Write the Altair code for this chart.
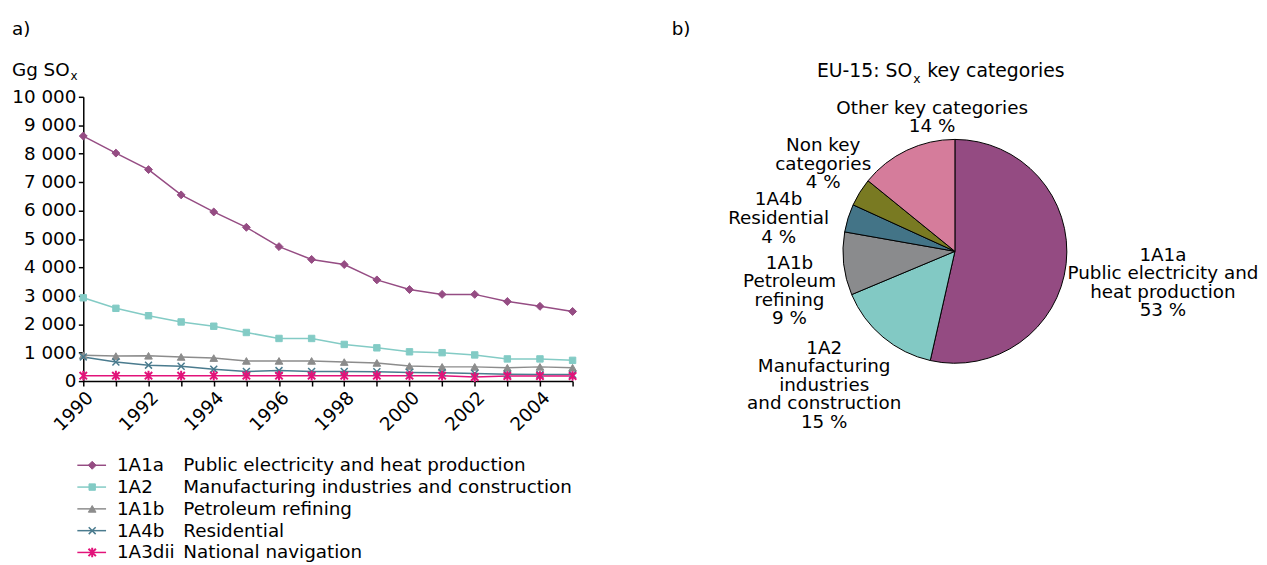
import altair as alt
import pandas as pd

# ---------------- data ----------------
YEARS = [1990, 1991, 1992, 1993, 1994, 1995, 1996, 1997,
         1998, 1999, 2000, 2001, 2002, 2003, 2004, 2005]

SERIES = ["1A1a", "1A2", "1A1b", "1A4b", "1A3dii"]
NAMES = ["Public electricity and heat production",
         "Manufacturing industries and construction",
         "Petroleum refining",
         "Residential",
         "National navigation"]

V_1A1A = [8620, 8020, 7440, 6550, 5950, 5410, 4730, 4280, 4100, 3560, 3220, 3050, 3050, 2800, 2630, 2450]
V_1A2 = [2930, 2560, 2300, 2080, 1930, 1710, 1500, 1500, 1290, 1170, 1030, 1000, 920, 780, 780, 730]
V_1A1B = [910, 880, 890, 850, 810, 710, 710, 710, 670, 640, 530, 500, 500, 470, 500, 470]
V_1A4B = [850, 670, 560, 520, 420, 340, 370, 340, 340, 330, 300, 290, 270, 240, 230, 230]
V_1A3DII = [190, 190, 190, 190, 190, 190, 190, 190, 190, 190, 190, 190, 140, 180, 180, 180]

Y_TICKS = [0, 1000, 2000, 3000, 4000, 5000, 6000, 7000, 8000, 9000, 10000]

PIE_CATS = ["1A1a", "1A2", "1A1b", "1A4b", "Non key", "Other key"]
PIE_VALUES = [53, 15, 9, 4, 4, 14]
PIE_LABELS = ["1A1a|Public electricity and|heat production|53 %",
              "1A2|Manufacturing|industries|and construction|15 %",
              "1A1b|Petroleum|refining|9 %",
              "1A4b|Residential|4 %",
              "Non key|categories|4 %",
              "Other key categories|14 %"]

# ---------------- styles ----------------
FONT = "DejaVu Sans"
FS = 18.5
SERIES_COLORS = ["#954C83", "#83CBC5", "#8C8C8C", "#4A7B8E", "#E2137A"]
SHAPES = ["diamond", "square", "triangle-up",
          "M-1,-1L1,1M-1,1L1,-1",
          "M-1,-1L1,1M-1,1L1,-1M0,-1.3L0,1.3"]
MARK_SIZE = {"1A1a": 64, "1A2": 42, "1A1b": 60, "1A4b": 49, "1A3dii": 56}
MARK_SW = {"1A1a": 1, "1A2": 1, "1A1b": 1, "1A4b": 1.5, "1A3dii": 2}
PIE_COLORS = ["#944B82", "#82C9C4", "#8A8B8D", "#437487", "#797A22", "#D57C9B"]
PX = 6  # horizontal nudge of the pie panel content
# first-line anchor of each pie label (pixels in the pie panel)
LABEL_POS = {"1A1a": (492 + PX, 159.3), "1A2": (150 + PX, 253.3), "1A1b": (115 + PX, 167.7),
             "1A4b": (104 + PX, 103.7), "Non key": (149 + PX, 48.7), "Other key": (259 + PX, 11)}

# ---------------- tables ----------------
all_vals = [V_1A1A, V_1A2, V_1A1B, V_1A4B, V_1A3DII]
rows = []
for s, vals in zip(SERIES, all_vals):
    for yr, v in zip(YEARS, vals):
        rows.append({"series": s, "year": yr, "value": v,
                     "msize": MARK_SIZE[s], "msw": MARK_SW[s]})
df = pd.DataFrame(rows)

tick_df = pd.DataFrame({"value": Y_TICKS,
                        "lab": [f"{v:,}".replace(",", " ") for v in Y_TICKS]})

leg_df = pd.DataFrame({"series": SERIES, "name": NAMES,
                       "msize": [MARK_SIZE[s] for s in SERIES],
                       "msw": [MARK_SW[s] for s in SERIES]})

pie_df = pd.DataFrame({"cat": PIE_CATS, "value": PIE_VALUES,
                       "order": list(range(len(PIE_CATS))), "label": PIE_LABELS,
                       "lx": [LABEL_POS[c][0] for c in PIE_CATS],
                       "ly": [LABEL_POS[c][1] for c in PIE_CATS]})

one = pd.DataFrame({"k": [0]})

# ---------------- scales ----------------
color_sc = alt.Scale(domain=SERIES, range=SERIES_COLORS)
shape_sc = alt.Scale(domain=SERIES, range=SHAPES)

x_enc = alt.X("year:Q",
              scale=alt.Scale(domain=[1990, 2005], nice=False, zero=False),
              axis=alt.Axis(values=YEARS, format="d",
                            labelExpr="datum.value % 2 == 0 ? datum.label : ''",
                            labelAngle=315, labelFontSize=FS, labelColor="black",
                            labelFont=FONT, labelOverlap=False, labelFlush=False,
                            tickSize=5, tickColor="black", tickWidth=1.5,
                            domainColor="black", domainWidth=1.5,
                            grid=False, title=None, labelPadding=2))
y_enc = alt.Y("value:Q",
              scale=alt.Scale(domain=[0, 10000], nice=False),
              axis=alt.Axis(values=Y_TICKS, labels=False,
                            tickSize=5, tickColor="black", tickWidth=1.5,
                            domainColor="black", domainWidth=1.5,
                            grid=False, title=None))

line = alt.Chart(df).mark_line(strokeWidth=1.5).encode(
    x=x_enc, y=y_enc,
    color=alt.Color("series:N", scale=color_sc, legend=None))

points = alt.Chart(df).mark_point(filled=True, opacity=1).encode(
    x=x_enc, y=y_enc,
    fill=alt.Fill("series:N", scale=color_sc, legend=None),
    stroke=alt.Stroke("series:N", scale=color_sc, legend=None),
    shape=alt.Shape("series:N", scale=shape_sc, legend=None),
    size=alt.Size("msize:Q", scale=None),
    strokeWidth=alt.StrokeWidth("msw:Q", scale=None))

# y tick labels, placed through the y scale
ytick_labels = alt.Chart(tick_df).mark_text(
    x=-7, align="right", baseline="middle", fontSize=FS, font=FONT, color="black").encode(
    y=y_enc, text="lab:N")

def txt(s, x, y, size=FS, align="left", baseline="alphabetic"):
    return alt.Chart(one).mark_text(x=x, y=y, fontSize=size, font=FONT, color="black",
                                    align=align, baseline=baseline).encode(
        text=alt.value(s))

plot_layer = alt.layer(line, points, ytick_labels,
                       txt("a)", -72, -62),
                       txt("Gg SO", -72, -21),
                       txt("x", -13, -16.5, size=12))

# ---- legend (below the plot) ----
leg_y = alt.Y("series:N", axis=None,
              scale=alt.Scale(type="point", domain=SERIES, range=[372, 460], padding=0))

leg_rule = alt.Chart(leg_df).mark_rule(x=-6, x2=23, strokeWidth=1.5).encode(
    y=leg_y, color=alt.Color("series:N", scale=color_sc, legend=None))
leg_pt = alt.Chart(leg_df).mark_point(filled=True, opacity=1, x=9).encode(
    y=leg_y,
    fill=alt.Fill("series:N", scale=color_sc, legend=None),
    stroke=alt.Stroke("series:N", scale=color_sc, legend=None),
    shape=alt.Shape("series:N", scale=shape_sc, legend=None),
    size=alt.Size("msize:Q", scale=None),
    strokeWidth=alt.StrokeWidth("msw:Q", scale=None))
leg_code = alt.Chart(leg_df).mark_text(x=34, align="left", baseline="middle",
                                       fontSize=FS, font=FONT, color="black").encode(
    y=leg_y, text="series:N")
leg_name = alt.Chart(leg_df).mark_text(x=101, align="left", baseline="middle",
                                       fontSize=FS, font=FONT, color="black").encode(
    y=leg_y, text="name:N")

legend_layer = alt.layer(leg_rule, leg_pt, leg_code, leg_name)

left = alt.layer(plot_layer, legend_layer).resolve_scale(y="independent").properties(
    width=494, height=287)

# ---------------- pie ----------------
arc = alt.Chart(pie_df).mark_arc(outerRadius=113, stroke="black", strokeWidth=1).encode(
    theta=alt.Theta("value:Q", stack=True),
    order=alt.Order("order:Q"),
    color=alt.Color("cat:N", scale=alt.Scale(domain=PIE_CATS, range=PIE_COLORS), legend=None),
    x=alt.value(282 + PX), y=alt.value(156))

pie_labels = alt.Chart(pie_df).mark_text(
    fontSize=FS, font=FONT, lineHeight=18.7, align="center", baseline="middle",
    color="black").transform_calculate(
    lines="split(datum.label, '|')").encode(
    x=alt.X("lx:Q", scale=None), y=alt.Y("ly:Q", scale=None),
    text=alt.Text("lines:N"))

pie = alt.layer(arc, pie_labels,
                txt("b)", 2, -62),
                txt("EU-15: SO", 239 + PX, -19.7, size=19, align="right"),
                txt("x", 240 + PX, -14, size=12.5),
                txt("key categories", 254 + PX, -19.7, size=19)).properties(
    width=583, height=287)

chart = alt.hconcat(left, pie, spacing=98, bounds="flush").resolve_scale(
    color="independent", fill="independent", stroke="independent", shape="independent"
).properties(
    padding={"left": 4, "top": 10, "right": 0, "bottom": 0}
).configure(font=FONT, background="white").configure_view(stroke=None)

chart.save("out.html", embed_options={"renderer": "svg", "actions": False})
